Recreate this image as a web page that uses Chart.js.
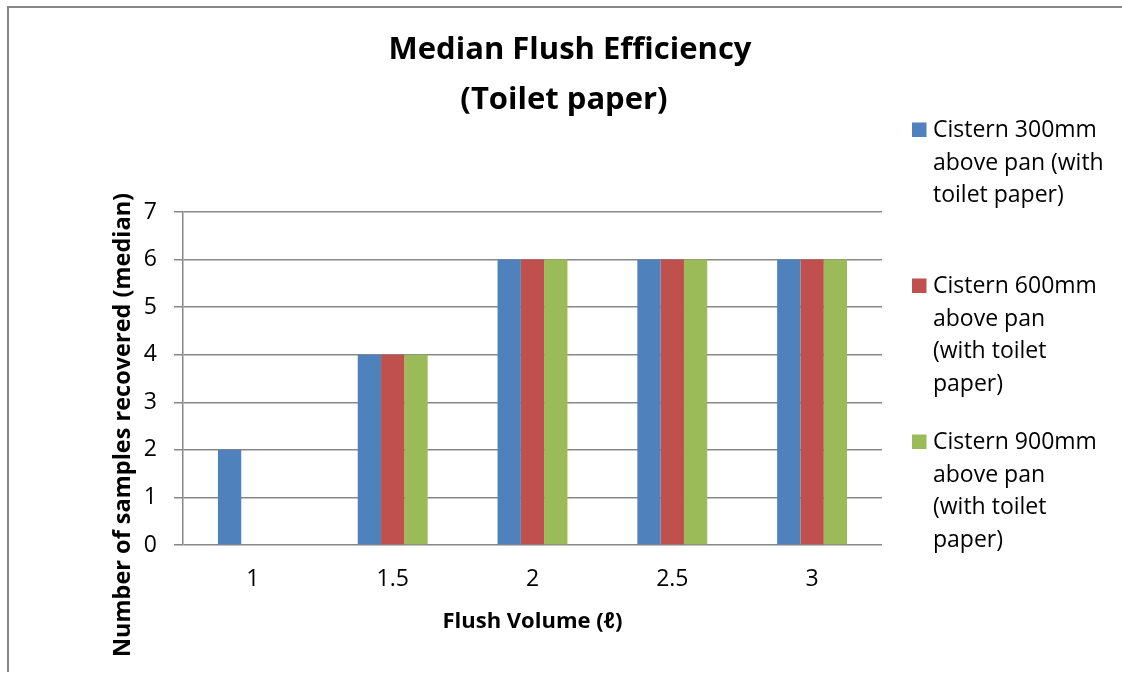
<!DOCTYPE html>
<html>
<head>
<meta charset="utf-8">
<script src="https://cdn.jsdelivr.net/npm/chart.js@4"></script>
<style>
  html, body { margin: 0; padding: 0; background: #fff; }
  #wrap { position: relative; width: 1122px; height: 673px; overflow: hidden; }
  #frame { position: absolute; left: 7px; top: 6px; width: 1200px; height: 664px;
           border-top: 2px solid #878787; border-left: 2px solid #878787; }
  #c { position: absolute; left: 0; top: 0; }
</style>
</head>
<body>
<div id="wrap">
  <div id="frame"></div>
  <canvas id="c" width="1122" height="673"></canvas>
</div>
<script>
// Flush volumes tested (litres)
const flushVolumes = ['1', '1.5', '2', '2.5', '3'];

// Median number of samples recovered per cistern height
const cistern300 = [2, 4, 6, 6, 6];
const cistern600 = [0, 4, 6, 6, 6];
const cistern900 = [0, 4, 6, 6, 6];

const seriesNames = [
  'Cistern 300mm above pan (with toilet paper)',
  'Cistern 600mm above pan (with toilet paper)',
  'Cistern 900mm above pan (with toilet paper)'
];
// Wrapped legend text, one array of lines per series
const legendLines = [
  ['Cistern 300mm', 'above pan (with', 'toilet paper)'],
  ['Cistern 600mm', 'above pan', '(with toilet', 'paper)'],
  ['Cistern 900mm', 'above pan', '(with toilet', 'paper)']
];
const seriesColors = ['#4F81BD', '#C0504D', '#9BBB59'];

const yMin = 0, yMax = 7, yStep = 1;

const chartTitle = ['Median Flush Efficiency', '(Toilet paper)'];
const xAxisTitle = 'Flush Volume (\u2113)';
const yAxisTitle = 'Number of samples recovered (median)';

const FONT = "'Open Sans', 'DejaVu Sans', sans-serif";
const GRID = '#878787';

// Draws the title, axis titles and the wrapped legend around the plot
const decorations = {
  id: 'decorations',
  afterDraw(chart) {
    const ctx = chart.ctx;
    const area = chart.chartArea;
    ctx.save();
    ctx.fillStyle = '#000';

    // Chart title, two lines
    ctx.font = 'bold 31px ' + FONT;
    ctx.textAlign = 'center';
    ctx.textBaseline = 'alphabetic';
    ctx.fillText(chartTitle[0], 570, 59);
    ctx.fillText(chartTitle[1], 564, 109);

    // X axis title
    ctx.font = 'bold 22px ' + FONT;
    ctx.fillText(xAxisTitle, (area.left + area.right) / 2, 628);

    // Y axis title, rotated
    ctx.save();
    ctx.font = 'bold 23.5px ' + FONT;
    ctx.translate(123, 425);
    ctx.rotate(-Math.PI / 2);
    ctx.textBaseline = 'middle';
    ctx.fillText(yAxisTitle, 0, 0);
    ctx.restore();

    // Legend
    ctx.font = '23px ' + FONT;
    ctx.textAlign = 'left';
    ctx.textBaseline = 'alphabetic';
    chart.data.datasets.forEach((ds, i) => {
      const base = 137 + i * 156;
      ctx.fillStyle = ds.backgroundColor;
      ctx.fillRect(912, base - 14.5, 14.5, 14.5);
      ctx.fillStyle = '#000';
      legendLines[i].forEach((line, j) => {
        ctx.fillText(line, 933, base + j * 32.5);
      });
    });
    ctx.restore();
  }
};

new Chart(document.getElementById('c'), {
  type: 'bar',
  data: {
    labels: flushVolumes,
    datasets: [
      { label: seriesNames[0], data: cistern300, backgroundColor: seriesColors[0] },
      { label: seriesNames[1], data: cistern600, backgroundColor: seriesColors[1] },
      { label: seriesNames[2], data: cistern900, backgroundColor: seriesColors[2] }
    ]
  },
  options: {
    responsive: false,
    animation: false,
    devicePixelRatio: 1,
    layout: { padding: { left: 0, top: 212, right: 240, bottom: 0 } },
    datasets: {
      bar: { categoryPercentage: 0.5, barPercentage: 1.0, borderWidth: 0 }
    },
    plugins: {
      legend: { display: false },
      title: { display: false },
      tooltip: { enabled: false }
    },
    scales: {
      x: {
        afterFit(scale) { scale.height = 128; },
        grid: { display: false, drawTicks: false },
        border: { display: false },
        ticks: { color: '#000', font: { family: FONT, size: 23 }, padding: 21, maxRotation: 0 }
      },
      y: {
        min: yMin, max: yMax,
        afterFit(scale) { scale.width = 183; },
        grid: { color: GRID, lineWidth: 1.5, tickLength: 9 },
        border: { display: true, color: GRID, width: 1.5 },
        ticks: { stepSize: yStep, color: '#000', font: { family: FONT, size: 23 }, padding: 17 }
      }
    }
  },
  plugins: [decorations]
});
</script>
</body>
</html>
